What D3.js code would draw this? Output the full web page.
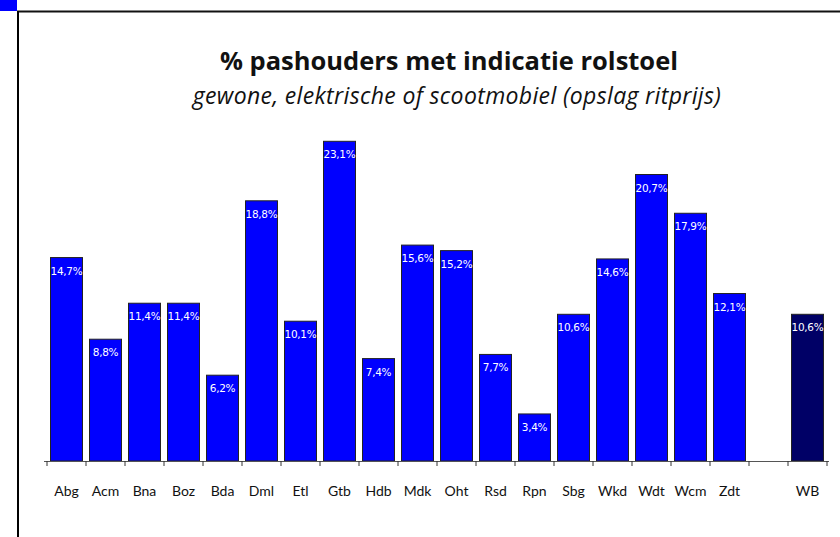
<!DOCTYPE html>
<html>
<head>
<meta charset="utf-8">
<script src="https://cdn.jsdelivr.net/npm/d3@7"></script>
<style>
  body { margin: 0; background: #fff; }
  svg { display: block; }
</style>
</head>
<body>
<div id="chart"></div>
<script>
var categories = ["Abg", "Acm", "Bna", "Boz", "Bda", "Dml", "Etl", "Gtb", "Hdb", "Mdk",
                  "Oht", "Rsd", "Rpn", "Sbg", "Wkd", "Wdt", "Wcm", "Zdt", "", "WB"];
var values = [14.7, 8.8, 11.4, 11.4, 6.2, 18.8, 10.1, 23.1, 7.4, 15.6,
              15.2, 7.7, 3.4, 10.6, 14.6, 20.7, 17.9, 12.1, null, 10.6];
var labels = ["14,7%", "8,8%", "11,4%", "11,4%", "6,2%", "18,8%", "10,1%", "23,1%", "7,4%", "15,6%",
              "15,2%", "7,7%", "3,4%", "10,6%", "14,6%", "20,7%", "17,9%", "12,1%", "", "10,6%"];
var title = "% pashouders met indicatie rolstoel";
var subtitle = "gewone, elektrische of scootmobiel (opslag ritprijs)";

var width = 840, height = 537;

var svg = d3.select("#chart").append("svg")
    .attr("width", width)
    .attr("height", height);

// frame bits: blue corner + border lines
svg.append("rect").attr("x", 0).attr("y", 0).attr("width", 17).attr("height", 11).attr("fill", "#0000ff");
svg.append("line").attr("x1", 17).attr("x2", width).attr("y1", 11.5).attr("y2", 11.5)
    .attr("stroke", "#111").attr("stroke-width", 2);
svg.append("line").attr("x1", 18).attr("x2", 18).attr("y1", 11).attr("y2", height)
    .attr("stroke", "#000").attr("stroke-width", 2);

svg.append("text").attr("x", 449).attr("y", 70)
    .attr("text-anchor", "middle")
    .attr("font-family", "'Open Sans', Lato, sans-serif")
    .attr("font-weight", "bold").attr("font-size", 25.5)
    .attr("fill", "#111")
    .text(title);
svg.append("text").attr("x", 457).attr("y", 104)
    .attr("text-anchor", "middle")
    .attr("font-family", "'Open Sans', Lato, sans-serif")
    .attr("font-style", "italic").attr("font-size", 23)
    .attr("letter-spacing", 0.35)
    .attr("fill", "#111")
    .text(subtitle);

var x = d3.scaleBand()
    .domain(d3.range(categories.length))
    .range([47, 827])
    .paddingInner(0.18)
    .paddingOuter(0.09);

var y = d3.scaleLinear()
    .domain([0, 25])
    .range([461, 115]);

var data = categories.map(function(c, i) {
  return {name: c, qty: values[i], label: labels[i], i: i};
});

var bars = svg.selectAll("g.bar")
    .data(data.filter(function(d) { return d.qty !== null; }))
    .enter()
    .append("g").attr("class", "bar");

bars.append("rect")
    .attr("x", function(d) { return x(d.i); })
    .attr("y", function(d) { return y(d.qty); })
    .attr("width", x.bandwidth())
    .attr("height", function(d) { return y(0) - y(d.qty); })
    .attr("fill", function(d) { return d.name == "WB" ? "#000066" : "#0000ff"; })
    .attr("stroke", "#222")
    .attr("stroke-width", 1);

bars.append("text")
    .text(function(d) { return d.label; })
    .attr("x", function(d) { return x(d.i) + x.bandwidth() / 2; })
    .attr("y", function(d) { return y(d.qty) + 17; })
    .attr("text-anchor", "middle")
    .attr("fill", "#fff")
    .attr("font-family", "'DejaVu Sans', Verdana, sans-serif")
    .attr("font-size", 10.5)
    .attr("letter-spacing", -0.3);

// x axis with ticks at band edges
var step = x.step();
var edges = d3.range(categories.length + 1).map(function(k) { return 47 + k * step; });
svg.append("line").attr("x1", 44).attr("x2", 829).attr("y1", 461.5).attr("y2", 461.5)
    .attr("stroke", "#555").attr("stroke-width", 1.2);
svg.selectAll("line.tick").data(edges).enter().append("line")
    .attr("class", "tick")
    .attr("x1", function(d) { return d; }).attr("x2", function(d) { return d; })
    .attr("y1", 461).attr("y2", 466)
    .attr("stroke", "#333");

svg.selectAll("text.xlab").data(data).enter().append("text")
    .attr("class", "xlab")
    .attr("x", function(d) { return x(d.i) + x.bandwidth() / 2; })
    .attr("y", 496)
    .attr("text-anchor", "middle")
    .attr("font-family", "Lato, 'Open Sans', sans-serif")
    .attr("font-size", 14)
    .attr("fill", "#111")
    .text(function(d) { return d.name; });
</script>
</body>
</html>
